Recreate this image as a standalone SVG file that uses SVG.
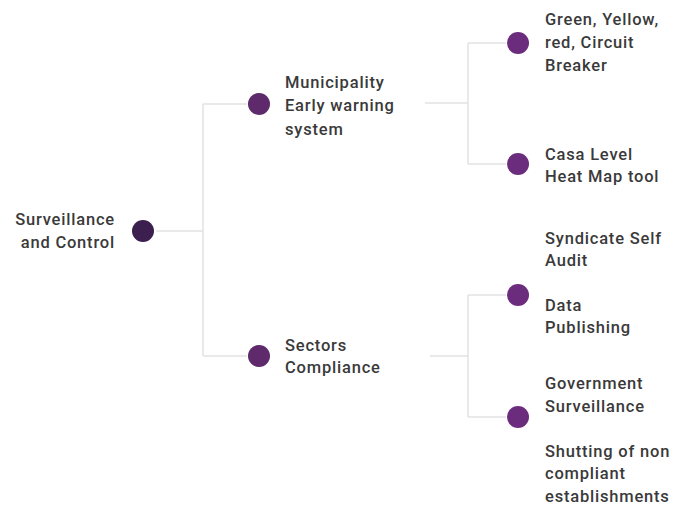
<svg xmlns="http://www.w3.org/2000/svg" width="673" height="506" viewBox="0 0 673 506">
<style>
.t{font-family:Roboto,"Liberation Sans",sans-serif;font-size:16.5px;font-weight:500;letter-spacing:0.8px;fill:#3a3a3a}
.c{stroke:#e2e2e2;stroke-width:1.5;fill:none}
.n1{fill:#3c1f4e}
.n2{fill:#5e2a6b}
.n3{fill:#6c2c7e}
</style>
<rect width="673" height="506" fill="#fff"/>
<g id="connectors">
<path class="c" d="M156 231H203M203 104V356M203 104H247M203 356H247"/>
<path class="c" d="M425 103H468M468 43V164M468 43H506M468 164H506"/>
<path class="c" d="M430 356H468M468 295V417M468 295H506M468 417H506"/>
</g>
<g id="root">
<circle class="n1" cx="143" cy="231" r="11"/>
<text class="t" text-anchor="end" x="115"><tspan x="115" y="225">Surveillance</tspan><tspan x="115" y="248">and Control</tspan></text>
</g>
<g id="municipality">
<circle class="n2" cx="259" cy="104" r="11"/>
<text class="t"><tspan x="285" y="88">Municipality</tspan><tspan x="285" y="111">Early warning</tspan><tspan x="285" y="135">system</tspan></text>
</g>
<g id="sectors">
<circle class="n2" cx="259" cy="356" r="11"/>
<text class="t"><tspan x="285" y="351">Sectors</tspan><tspan x="285" y="373">Compliance</tspan></text>
</g>
<g id="green">
<circle class="n3" cx="518" cy="43" r="11"/>
<text class="t"><tspan x="545" y="25">Green, Yellow,</tspan><tspan x="545" y="48">red, Circuit</tspan><tspan x="545" y="71">Breaker</tspan></text>
</g>
<g id="casa">
<circle class="n3" cx="518" cy="164" r="11"/>
<text class="t"><tspan x="545" y="160">Casa Level</tspan><tspan x="545" y="182">Heat Map tool</tspan></text>
</g>
<g id="syndicate">
<circle class="n3" cx="518" cy="295" r="11"/>
<text class="t"><tspan x="545" y="244">Syndicate Self</tspan><tspan x="545" y="266">Audit</tspan><tspan x="545" y="311">Data</tspan><tspan x="545" y="333">Publishing</tspan></text>
</g>
<g id="government">
<circle class="n3" cx="518" cy="417" r="11"/>
<text class="t"><tspan x="545" y="389">Government</tspan><tspan x="545" y="412">Surveillance</tspan><tspan x="545" y="457">Shutting of non</tspan><tspan x="545" y="479">compliant</tspan><tspan x="545" y="502">establishments</tspan></text>
</g>
</svg>
